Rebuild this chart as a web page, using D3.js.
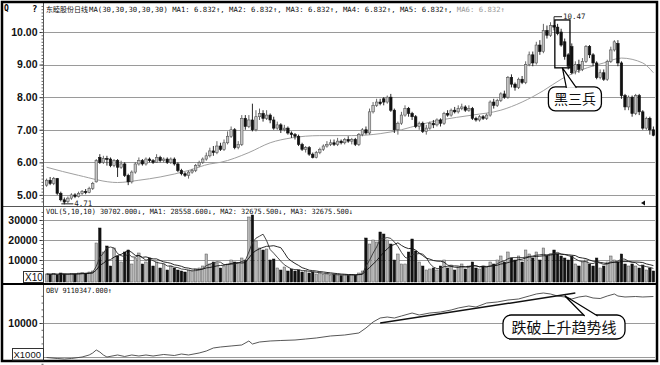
<!DOCTYPE html>
<html>
<head>
<meta charset="utf-8">
<script src="https://cdn.jsdelivr.net/npm/d3@7"></script>
<style>
body { margin: 0; background: #fff; }
svg { display: block; }
</style>
</head>
<body>
<div id="chart"></div>
<script>
// daily candles (index = trading day)
var open = [
  5.30,5.45,5.35,5.50,5.05,4.85,4.80,4.90,5.00,4.95,
  5.05,5.10,5.08,5.20,5.40,6.15,6.00,6.12,6.10,5.90,
  6.05,5.85,5.95,5.60,5.40,5.70,5.95,6.05,5.95,6.10,
  6.05,6.00,6.15,6.05,6.10,6.00,6.10,5.95,5.75,5.65,
  5.60,5.70,5.75,5.90,6.00,6.10,6.20,6.35,6.30,6.50,
  6.40,6.60,6.80,7.00,6.45,6.55,7.35,7.10,7.30,7.00,
  7.40,7.50,7.35,7.45,7.30,7.05,7.15,7.00,7.05,6.90,
  6.85,6.80,6.55,6.40,6.45,6.25,6.15,6.30,6.40,6.50,
  6.55,6.60,6.55,6.65,6.60,6.70,6.65,6.70,6.55,6.85,
  7.00,6.90,7.55,7.75,7.85,7.95,7.85,8.00,7.60,7.00,
  7.20,7.45,7.65,7.50,7.40,7.10,7.20,6.95,7.05,7.20,
  7.15,7.30,7.20,7.50,7.45,7.60,7.55,7.65,7.70,7.60,
  7.65,7.35,7.30,7.40,7.35,7.45,7.85,7.75,7.90,8.10,
  8.00,8.60,8.40,8.30,8.55,8.45,9.00,9.30,9.05,9.60,
  9.40,10.05,9.90,10.20,10.15,10.00,9.70,9.30,9.55,8.80,
  9.00,8.85,9.10,9.55,9.30,9.05,8.60,8.75,8.55,9.10,
  9.45,9.65,9.05,8.05,7.70,8.00,7.50,8.05,7.55,7.05,
  7.35,7.00];
var close = [
  5.45,5.35,5.50,5.05,4.85,4.78,4.90,5.00,4.95,5.05,
  5.10,5.08,5.20,5.35,6.05,6.00,6.12,6.10,5.90,6.05,
  5.85,5.95,5.60,5.40,5.70,5.95,6.05,5.95,6.10,6.05,
  6.00,6.15,6.05,6.10,6.00,6.10,5.95,5.75,5.65,5.60,
  5.70,5.75,5.90,6.00,6.10,6.20,6.35,6.30,6.50,6.40,
  6.60,6.80,7.00,6.45,6.55,7.35,7.10,7.30,7.00,7.40,
  7.50,7.35,7.45,7.30,7.05,7.15,7.00,7.05,6.90,6.85,
  6.80,6.55,6.40,6.45,6.25,6.15,6.30,6.40,6.50,6.55,
  6.60,6.55,6.65,6.60,6.70,6.65,6.70,6.55,6.85,7.00,
  6.90,7.55,7.75,7.85,7.80,7.85,8.00,7.60,7.00,7.20,
  7.45,7.65,7.50,7.40,7.10,7.20,6.95,7.05,7.20,7.15,
  7.30,7.20,7.50,7.45,7.60,7.55,7.65,7.70,7.60,7.65,
  7.35,7.30,7.40,7.35,7.45,7.85,7.75,7.90,8.10,8.00,
  8.60,8.40,8.30,8.55,8.45,9.00,9.30,9.05,9.60,9.40,
  10.05,9.90,10.20,10.15,9.95,9.60,9.25,8.95,8.75,9.00,
  8.85,9.10,9.55,9.30,9.05,8.60,8.75,8.55,9.10,9.45,
  9.70,9.05,8.05,7.70,8.00,7.50,8.05,7.55,7.05,7.35,
  7.00,6.83];
var high = [
  5.50,5.55,5.55,5.52,5.10,4.92,4.95,5.05,5.05,5.10,
  5.15,5.18,5.25,5.40,6.10,6.25,6.20,6.20,6.15,6.10,
  6.10,6.05,6.00,5.65,5.75,6.00,6.15,6.10,6.15,6.15,
  6.10,6.25,6.20,6.15,6.15,6.15,6.15,6.00,5.80,5.70,
  5.75,5.80,5.95,6.05,6.15,6.30,6.45,6.50,6.65,6.60,
  6.70,6.95,7.10,7.05,6.65,7.45,7.45,7.45,7.80,7.60,
  7.65,7.60,7.60,7.50,7.40,7.25,7.20,7.15,7.10,6.95,
  6.90,6.85,6.60,6.50,6.50,6.30,6.35,6.45,6.55,6.65,
  6.70,6.70,6.75,6.70,6.75,6.80,6.75,6.75,6.90,7.05,
  7.10,7.65,7.85,7.95,7.95,8.00,8.05,8.10,7.65,7.25,
  7.55,7.75,7.70,7.55,7.45,7.25,7.25,7.15,7.25,7.30,
  7.35,7.35,7.55,7.60,7.65,7.70,7.75,7.80,7.75,7.75,
  7.70,7.40,7.45,7.45,7.50,7.90,7.95,7.95,8.15,8.20,
  8.65,8.70,8.45,8.60,8.65,9.10,9.40,9.40,9.70,9.75,
  10.25,10.20,10.30,10.47,10.25,10.10,9.80,9.35,9.65,9.10,
  9.15,9.20,9.60,9.60,9.35,9.10,8.85,8.85,9.15,9.55,
  9.75,9.75,9.10,8.10,8.05,8.05,8.10,8.10,7.60,7.40,
  7.40,7.10];
var low = [
  5.25,5.30,5.30,5.00,4.80,4.71,4.75,4.85,4.90,4.92,
  5.00,5.02,5.05,5.15,5.38,5.95,5.95,5.90,5.85,5.85,
  5.55,5.80,5.55,5.30,5.35,5.65,5.90,5.90,5.90,6.00,
  5.95,5.98,6.00,6.00,5.95,5.95,5.90,5.70,5.60,5.55,
  5.50,5.65,5.70,5.85,5.95,6.05,6.15,6.20,6.25,6.35,
  6.35,6.55,6.75,6.40,6.40,6.50,7.00,7.05,6.95,6.95,
  7.30,7.25,7.30,7.20,7.00,7.00,6.90,6.95,6.85,6.75,
  6.70,6.50,6.35,6.30,6.20,6.12,6.12,6.25,6.35,6.45,
  6.50,6.50,6.50,6.55,6.55,6.60,6.55,6.50,6.50,6.80,
  6.85,6.85,7.50,7.70,7.75,7.75,7.80,7.55,6.90,6.85,
  7.15,7.40,7.40,7.30,7.05,7.00,6.90,6.85,7.00,7.05,
  7.10,7.10,7.15,7.40,7.40,7.50,7.50,7.60,7.55,7.55,
  7.30,7.25,7.25,7.30,7.30,7.40,7.65,7.70,7.85,7.95,
  7.95,8.30,8.20,8.25,8.40,8.40,8.95,8.95,9.00,9.30,
  9.35,9.80,9.85,10.05,9.90,9.55,9.15,8.85,8.70,8.70,
  8.75,8.80,9.05,9.20,8.95,8.55,8.55,8.50,8.50,9.05,
  9.40,8.95,7.95,7.60,7.60,7.40,7.45,7.45,7.00,7.00,
  6.85,6.80];
var volume = [
  3000,2800,3200,2500,3500,3000,2800,3200,3000,3500,
  3800,3400,4000,4500,18500,26000,14000,17000,7000,16000,
  12000,9000,14000,15000,8000,11000,13500,8000,9000,11000,
  7000,9000,6000,8000,5000,7000,6000,5000,4500,4000,
  5000,4500,5500,6000,7000,13000,8000,9000,8500,6000,
  7000,8000,10000,9000,8500,11000,10000,31500,32500,19500,
  16000,15000,15500,10000,10500,6000,5000,6500,4500,5500,
  4500,5000,4000,4500,3500,4000,3000,3500,2800,3000,
  2500,2800,2500,2200,2600,2400,2800,2500,3500,4500,
  21000,18000,20000,19000,24000,23000,20000,18000,10000,13000,
  8000,8000,14000,20500,14500,9000,7000,5000,5500,6000,
  5000,7000,10000,6000,7500,5000,6500,8000,5500,7000,
  9000,6000,5500,7000,6500,9000,8000,10000,12000,9000,
  14000,11000,10000,12000,9000,15000,13000,11000,14000,10000,
  16000,12000,13000,15000,13000,12000,11000,10000,12000,8000,
  7000,9000,10000,8000,7000,11000,6000,7000,9000,12000,
  10000,9000,13000,8000,7000,8000,7000,6000,7500,5000,
  6000,4500];

// 30-day price average, read at a few days
var maIdx = [0, 9, 20, 26, 32, 40, 46, 49, 57, 63, 69, 77, 86, 94, 100, 105, 111, 120, 128, 134, 140, 145, 151, 157, 162, 168, 171];
var maVal = [5.85, 5.60, 5.38, 5.45, 5.55, 5.75, 5.95, 6.00, 6.30, 6.60, 6.75, 6.82, 6.82, 6.88, 7.00, 7.15, 7.30, 7.45, 7.60, 7.85, 8.20, 8.55, 8.85, 9.05, 9.20, 9.05, 8.75];

// OBV (x1000)
var obvIdx = [0,3,5,7,10,12,13,14,15,16,17,20,22,24,26,28,30,33,36,38,40,43,45,47,49,52,55,57,58,60,63,66,70,73,76,80,84,88,90,92,94,96,98,100,103,105,108,111,114,116,119,121,124,127,130,133,136,138,140,142,144,146,148,150,152,154,156,158,160,161,163,166,168,171];
var obvVal = [-150,-440,-590,-440,0,590,1180,2060,1470,590,0,590,150,590,290,590,290,740,440,880,590,1180,1760,2650,2940,3240,3530,4710,3820,4410,4710,4850,5000,5290,5590,6180,6470,7060,8530,10290,11470,11760,11470,12060,12940,12350,12940,13230,13820,14410,15000,14700,15880,16180,16760,17060,17940,18530,18820,18530,17940,17650,17060,17650,17940,17350,17200,17940,18530,17940,17650,17790,17650,17790];

// rising OBV trend line that gets broken
var trendIdx = [94, 149];
var trendVal = [10000, 18800];

var priceTicks = [5, 6, 7, 8, 9, 10];
var volTicks = [10000, 20000, 30000];
var obvTicks = [0, 10000];
var obvLabels = [10000];

var W = 660, H = 365;
var left = 44, right = 655;
var N = close.length;

var svg = d3.select('#chart').append('svg')
    .attr('width', W)
    .attr('height', H);

svg.append('rect').attr('width', W).attr('height', H).attr('fill', '#fff');

// scales
var x = d3.scaleBand()
    .domain(d3.range(N))
    .range([45, right])
    .paddingInner(0.3)
    .paddingOuter(0.1);
var bw = x.bandwidth();
var cx = function(i) { return x(i) + bw / 2; };

var yP = d3.scaleLinear().domain([4.69, 10.86]).range([205, 4]);
var yV = d3.scaleLinear().domain([0, 30000]).range([280, 220]);
var yO = d3.scaleLinear().domain([0, 10000]).range([357, 323]);

var mono = '"DejaVu Sans Mono", monospace';

// gridlines
function grid(scale, ticks) {
    svg.append('g').selectAll('line')
        .data(ticks)
        .enter()
        .append('line')
        .attr('x1', left).attr('x2', right)
        .attr('y1', function(d) { return Math.round(scale(d)) + 0.5; })
        .attr('y2', function(d) { return Math.round(scale(d)) + 0.5; })
        .attr('stroke', '#9a9a9a')
        .attr('stroke-width', 1.2);
}
grid(yP, priceTicks);
grid(yV, volTicks);
grid(yO, obvTicks);

// left axes: labels + minor ticks
function leftAxis(scale, labels, fmt, minor) {
    var major = d3.axisLeft(scale).tickValues(labels).tickSize(4).tickPadding(2).tickFormat(fmt);
    var g = svg.append('g').attr('transform', 'translate(' + (left - 0.5) + ',0)').call(major);
    g.select('.domain').remove();
    g.selectAll('line').attr('stroke', '#333');
    g.selectAll('text')
        .attr('fill', '#111')
        .attr('font-family', '"Liberation Sans", Arial, sans-serif')
        .attr('font-weight', 'bold')
        .attr('font-size', '10.5px');
    var m = d3.axisLeft(scale).tickValues(minor).tickSize(2).tickFormat('');
    var g2 = svg.append('g').attr('transform', 'translate(' + (left - 0.5) + ',0)').call(m);
    g2.select('.domain').remove();
    g2.selectAll('line').attr('stroke', '#666');
}
leftAxis(yP, priceTicks, d3.format('.2f'), d3.range(4.8, 10.8, 0.1));
leftAxis(yV, volTicks, d3.format('d'), d3.range(0, 36000, 2000));
leftAxis(yO, obvLabels, d3.format('d'), d3.range(-2000, 20000, 2000).filter(function(d) { return yO(d) > 287; }));

// price moving average
var maLine = d3.line()
    .x(function(d, i) { return cx(maIdx[i]); })
    .y(function(d) { return yP(d); })
    .curve(d3.curveMonotoneX);
svg.append('path')
    .datum(maVal)
    .attr('d', maLine)
    .attr('fill', 'none')
    .attr('stroke', '#a0a0a0')
    .attr('stroke-width', 1);

// candles
var idx = d3.range(N);
var up = function(i) { return close[i] >= open[i]; };
var candles = svg.append('g').selectAll('g.candle')
    .data(idx)
    .enter()
    .append('g')
    .attr('class', 'candle');
candles.append('line')
    .attr('x1', cx).attr('x2', cx)
    .attr('y1', function(i) { return yP(high[i]); })
    .attr('y2', function(i) { return yP(low[i]); })
    .attr('stroke', function(i) { return up(i) ? '#555' : '#111'; })
    .attr('stroke-width', 0.9);
candles.append('rect')
    .attr('x', function(i) { return x(i); })
    .attr('width', bw)
    .attr('y', function(i) { return yP(Math.max(open[i], close[i])); })
    .attr('height', function(i) { return Math.max(1, Math.abs(yP(open[i]) - yP(close[i]))); })
    .attr('fill', function(i) { return up(i) ? '#c4c4c4' : '#111'; })
    .attr('stroke', function(i) { return up(i) ? '#555' : '#111'; })
    .attr('stroke-width', 0.6);

// high / low markers
var hiI = d3.maxIndex(high), loI = d3.minIndex(low);
svg.append('line')
    .attr('x1', cx(hiI)).attr('x2', cx(hiI) + 8)
    .attr('y1', yP(high[hiI])).attr('y2', yP(high[hiI]))
    .attr('stroke', '#222');
svg.append('text')
    .attr('x', cx(hiI) + 9).attr('y', yP(high[hiI]) + 2.5)
    .attr('font-family', mono).attr('font-size', '7.5px').attr('fill', '#222')
    .text(d3.format('.2f')(high[hiI]));
svg.append('line')
    .attr('x1', cx(loI) - 3).attr('x2', cx(loI) + 9)
    .attr('y1', yP(low[loI]) - 0.5).attr('y2', yP(low[loI]) - 0.5)
    .attr('stroke', '#222');
svg.append('text')
    .attr('x', cx(loI) + 10).attr('y', yP(low[loI]) + 2)
    .attr('font-family', mono).attr('font-size', '7.5px').attr('fill', '#222')
    .text(d3.format('.2f')(low[loI]));

// volume bars
var volBase = 282;
svg.append('g').selectAll('rect')
    .data(idx)
    .enter()
    .append('rect')
    .attr('x', function(i) { return x(i); })
    .attr('width', bw)
    .attr('y', function(i) { return yV(volume[i]); })
    .attr('height', function(i) { return volBase - yV(volume[i]); })
    .attr('fill', function(i) { return up(i) ? '#b8b8b8' : '#111'; })
    .attr('stroke', function(i) { return up(i) ? '#555' : '#111'; })
    .attr('stroke-width', 0.5);

// volume averages (5 and 10 days)
function movingAvg(arr, n) {
    return arr.map(function(d, i) { return d3.mean(arr.slice(Math.max(0, i - n + 1), i + 1)); });
}
var vLine = d3.line()
    .x(function(d, i) { return cx(i); })
    .y(function(d) { return yV(d); });
svg.append('path').datum(movingAvg(volume, 5)).attr('d', vLine)
    .attr('fill', 'none').attr('stroke', '#333').attr('stroke-width', 0.9);
svg.append('path').datum(movingAvg(volume, 10)).attr('d', vLine)
    .attr('fill', 'none').attr('stroke', '#111').attr('stroke-width', 0.9);

// OBV line
var obvLine = d3.line()
    .x(function(d, i) { return cx(obvIdx[i]); })
    .y(function(d) { return yO(d); });
svg.append('path')
    .datum(obvVal)
    .attr('d', obvLine)
    .attr('fill', 'none')
    .attr('stroke', '#444')
    .attr('stroke-width', 0.9);

// trend line on OBV
svg.append('line')
    .attr('x1', cx(trendIdx[0])).attr('y1', yO(trendVal[0]))
    .attr('x2', cx(trendIdx[1])).attr('y2', yO(trendVal[1]))
    .attr('stroke', '#111')
    .attr('stroke-width', 1.5);

// panel separators, axis line and frame
svg.append('line').attr('x1', 2).attr('x2', 657).attr('y1', 206.5).attr('y2', 206.5)
    .attr('stroke', '#555').attr('stroke-width', 1);
svg.append('line').attr('x1', left - 0.5).attr('x2', left - 0.5).attr('y1', 3).attr('y2', 361)
    .attr('stroke', '#555').attr('stroke-width', 1);
svg.append('line').attr('x1', 2).attr('x2', 657).attr('y1', 284).attr('y2', 284)
    .attr('stroke', '#000').attr('stroke-width', 2.2);
svg.append('rect').attr('x', 2).attr('y', 2).attr('width', 655).attr('height', 359)
    .attr('fill', 'none').attr('stroke', '#000').attr('stroke-width', 2.5);

// scale boxes
svg.append('rect').attr('x', 23.5).attr('y', 271.5).attr('width', 20).attr('height', 11)
    .attr('fill', '#fff').attr('stroke', '#333');
svg.append('text').attr('x', 25).attr('y', 281)
    .attr('font-family', '"Liberation Sans", Arial, sans-serif').attr('font-size', '10px').attr('fill', '#111')
    .text('X10');
svg.append('rect').attr('x', 12.5).attr('y', 348.5).attr('width', 31).attr('height', 11.5)
    .attr('fill', '#fff').attr('stroke', '#333');
svg.append('text').attr('x', 13.5).attr('y', 358)
    .attr('font-family', '"Liberation Sans", Arial, sans-serif').attr('font-size', '9.5px').attr('fill', '#111')
    .text('X1000');

// header texts
svg.append('text').attr('x', 4).attr('y', 11)
    .attr('font-family', mono).attr('font-weight', 'bold').attr('font-size', '8px').text('Q');
svg.append('text').attr('x', 32).attr('y', 12)
    .attr('font-family', mono).attr('font-weight', 'bold').attr('font-size', '9px').text('?');
svg.append('text').attr('x', 46).attr('y', 12)
    .attr('font-family', '"Noto Sans CJK SC", sans-serif').attr('font-size', '7px').attr('fill', '#111')
    .text('东睦股份日线');
var head = svg.append('text').attr('x', 89).attr('y', 12)
    .attr('font-family', mono).attr('font-size', '7.2px').attr('fill', '#111')
    .attr('textLength', 416).attr('lengthAdjust', 'spacingAndGlyphs');
head.append('tspan').text('MA(30,30,30,30,30) MA1: 6.832↑, MA2: 6.832↑, MA3: 6.832↑, MA4: 6.832↑, MA5: 6.832↑, ');
head.append('tspan').attr('fill', '#999').text('MA6: 6.832↑');

svg.append('text').attr('x', 46).attr('y', 214)
    .attr('font-family', mono).attr('font-size', '7.2px').attr('fill', '#111')
    .attr('textLength', 307).attr('lengthAdjust', 'spacingAndGlyphs')
    .text('VOL(5,10,10) 30702.000↓, MA1: 28558.600↓, MA2: 32675.500↓, MA3: 32675.500↓');
svg.append('text').attr('x', 46).attr('y', 293)
    .attr('font-family', mono).attr('font-size', '7.2px').attr('fill', '#111')
    .attr('textLength', 66).attr('lengthAdjust', 'spacingAndGlyphs')
    .text('OBV 9110347.000↑');

// small marker at bottom right of price panel
svg.append('path').attr('d', 'M641,203 L645,200.5 L645,205.5 Z').attr('fill', '#111');

// annotation: 黑三兵 box around the three black candles
var s0 = 144, s1 = 147;
var bHi = d3.max(high.slice(s0, s1 + 1)) + 0.12, bLo = d3.min(low.slice(s0, s1 + 1)) + 0.05;
var bx0 = x(s0) - 1.5, bx1 = x(s1) + bw + 0.5;
svg.append('rect')
    .attr('x', bx0).attr('y', yP(bHi))
    .attr('width', bx1 - bx0).attr('height', yP(bLo) - yP(bHi))
    .attr('fill', 'none').attr('stroke', '#000').attr('stroke-width', 1.3);
var tipX = (bx0 + bx1) / 2, tipY = yP(bLo);
var lb = { x: tipX - 14, y: tipY + 19, w: 53, h: 24 };
svg.append('rect')
    .attr('x', lb.x).attr('y', lb.y).attr('width', lb.w).attr('height', lb.h)
    .attr('rx', 7).attr('fill', '#fff').attr('stroke', '#000').attr('stroke-width', 1.3);
svg.append('path')
    .attr('d', 'M' + (tipX + 4) + ',' + (lb.y + 1) + ' L' + tipX + ',' + tipY + ' L' + (tipX + 14) + ',' + (lb.y + 1))
    .attr('fill', '#fff').attr('stroke', '#000').attr('stroke-width', 1.2);
svg.append('text')
    .attr('x', lb.x + lb.w / 2).attr('y', lb.y + 17.5)
    .attr('text-anchor', 'middle')
    .attr('font-family', '"Noto Sans CJK SC", sans-serif').attr('font-size', '14px').attr('fill', '#111')
    .text('黑三兵');

// annotation: 跌破上升趋势线
var tI = 146;
var tFrac = (tI - trendIdx[0]) / (trendIdx[1] - trendIdx[0]);
var t2x = cx(tI), t2y = yO(trendVal[0] + tFrac * (trendVal[1] - trendVal[0])) + 1;
var lb2 = { x: 503, y: 315, w: 122, h: 24 };
svg.append('rect')
    .attr('x', lb2.x).attr('y', lb2.y).attr('width', lb2.w).attr('height', lb2.h)
    .attr('rx', 8).attr('fill', '#fff').attr('stroke', '#000').attr('stroke-width', 1.3);
svg.append('path')
    .attr('d', 'M' + (t2x + 20) + ',' + (lb2.y + 1) + ' L' + t2x + ',' + t2y + ' L' + (t2x + 33) + ',' + (lb2.y + 1))
    .attr('fill', '#fff').attr('stroke', '#000').attr('stroke-width', 1.2);
svg.append('text')
    .attr('x', lb2.x + lb2.w / 2).attr('y', lb2.y + 17.5)
    .attr('text-anchor', 'middle')
    .attr('font-family', '"Noto Sans CJK SC", sans-serif').attr('font-size', '15px').attr('fill', '#111')
    .text('跌破上升趋势线');
</script>
</body>
</html>
